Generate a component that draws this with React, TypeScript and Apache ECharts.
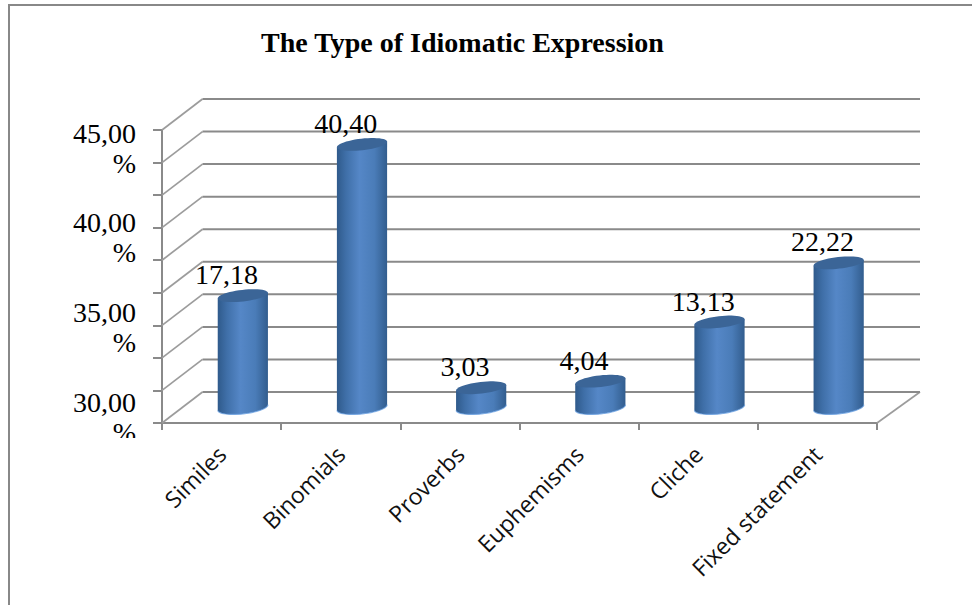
import React, { useEffect, useRef } from "react";
import * as echarts from "echarts";

const titleText = "The Type of Idiomatic Expression";
const categories = ["Similes", "Binomials", "Proverbs", "Euphemisms", "Cliche", "Fixed statement"];
const seriesValues = [17.18, 40.4, 3.03, 4.04, 13.13, 22.22];
const gridValues = [0, 5, 10, 15, 20, 25, 30, 35, 40, 45];

const SERIF = "'Liberation Serif', 'DejaVu Serif', serif";
const SANS = "'Open Sans', 'Noto Sans', sans-serif";
const LINE = "#8a8a8a";
const DX = 40.5;
const DY = 31;
const TILT = (-6.5 * Math.PI) / 180;
const comma = (v: number) => v.toFixed(2).replace(".", ",");

function ellipsePoints(cx: number, cy: number, a: number, b: number, from: number, to: number, n = 28) {
  const pts: number[][] = [];
  for (let k = 0; k <= n; k++) {
    const t = from + ((to - from) * k) / n;
    pts.push([
      cx + a * Math.cos(t) * Math.cos(TILT) - b * Math.sin(t) * Math.sin(TILT),
      cy + a * Math.cos(t) * Math.sin(TILT) + b * Math.sin(t) * Math.cos(TILT),
    ]);
  }
  return pts;
}

function renderWall(params: any, api: any) {
  const sys = params.coordSys;
  const y = api.coord([0, api.value(1)])[1];
  const left = sys.x;
  const right = sys.x + sys.width;
  const children: any[] = [];
  if (api.value(1) === 0) {
    children.push({
      type: "line",
      shape: { x1: right, y1: y, x2: right + 43, y2: y - DY },
      style: { stroke: "#9c9c9c", lineWidth: 1.7 },
    });
  }
  children.push({
    type: "line",
    shape: { x1: left, y1: y, x2: left + DX, y2: y - DY },
    style: { stroke: "#9c9c9c", lineWidth: 1.7 },
  });
  children.push({
    type: "line",
    shape: { x1: left + DX, y1: y - DY, x2: right + 43, y2: y - DY },
    style: { stroke: LINE, lineWidth: 2 },
  });
  return { type: "group", children };
}

function renderCylinder(_params: any, api: any) {
  const idx = api.value(0);
  const v = api.value(1);
  const base = api.coord([idx, 0]);
  const top = api.coord([idx, v]);
  const a = api.size([1, 0])[0] * 0.212;
  const b = 5.8;
  const cx = base[0] + DX / 2 + 1;
  const yBase = base[1] - DY / 2;
  const yTop = top[1] - DY / 2;
  const topLeft = ellipsePoints(cx, yTop, a, b, Math.PI, Math.PI, 1)[0];
  const topRight = ellipsePoints(cx, yTop, a, b, 0, 0, 1)[0];
  const front = ellipsePoints(cx, yBase, a, b + 0.6, 0, Math.PI);
  const body = new echarts.graphic.LinearGradient(0, 0, 1, 0, [
    { offset: 0, color: "#2f5a8b" },
    { offset: 0.18, color: "#3f6fa8" },
    { offset: 0.45, color: "#5587c7" },
    { offset: 0.75, color: "#4a7cb8" },
    { offset: 1, color: "#325d8e" },
  ]);
  return {
    type: "group",
    children: [
      {
        type: "polygon",
        shape: { points: [topLeft, topRight, ...front] },
        style: { fill: body },
      },
      {
        type: "polyline",
        shape: { points: front },
        style: { stroke: "rgba(105,160,225,0.75)", lineWidth: 1.2, fill: "none" },
      },
      {
        type: "polygon",
        shape: { points: ellipsePoints(cx, yTop, a, b, 0, Math.PI * 2, 48) },
        style: { fill: "#3b6597" },
      },
      {
        type: "text",
        style: {
          text: comma(v),
          x: base[0] + 5,
          y: yTop - 21,
          align: "center",
          verticalAlign: "middle",
          fontFamily: SERIF,
          fontSize: 28,
          fill: "#000",
        },
      },
    ],
  };
}

export default function App() {
  const ref = useRef<HTMLDivElement>(null);
  useEffect(() => {
    document.body.style.margin = "0";
    const chart = echarts.init(ref.current!, undefined, { renderer: "svg" });
    chart.setOption({
      animation: false,
      backgroundColor: "#fff",
      title: {
        text: titleText,
        left: 256,
        top: 23,
        textStyle: { fontFamily: SERIF, fontSize: 28, fontWeight: "bold", color: "#000" },
      },
      grid: [
        { left: 162, top: 130, width: 715, height: 293, containLabel: false },
        { left: 162, top: 148, width: 715, height: 269, containLabel: false },
      ],
      xAxis: [
        {
          type: "category",
          gridIndex: 0,
          data: categories,
          axisLine: { lineStyle: { color: LINE, width: 2 } },
          axisTick: { show: true, alignWithLabel: false, length: 7, lineStyle: { color: LINE, width: 2 } },
          axisLabel: {
            rotate: 45,
            margin: 27,
            interval: 0,
            fontFamily: SANS,
            fontSize: 23,
            color: "#111",
          },
        },
        { type: "value", gridIndex: 1, min: 0, max: 1, show: false },
      ],
      yAxis: [
        {
          type: "value",
          gridIndex: 0,
          min: 0,
          max: 45,
          interval: 5,
          axisLine: { show: true, lineStyle: { color: LINE, width: 2 } },
          axisTick: { show: true, length: 9, lineStyle: { color: LINE, width: 2 } },
          axisLabel: { show: false },
          splitLine: { show: false },
        },
        {
          type: "value",
          gridIndex: 1,
          min: 30,
          max: 45,
          interval: 5,
          axisLine: { show: false },
          axisTick: { show: false },
          splitLine: { show: false },
          axisLabel: {
            margin: 26,
            align: "right",
            fontFamily: SERIF,
            fontSize: 28,
            lineHeight: 30,
            color: "#000",
            formatter: (v: number) => `${comma(v)}\n%`,
          },
        },
      ],
      graphic: [
        {
          type: "rect",
          z: 100,
          silent: true,
          shape: { x: 100, y: 438, width: 45, height: 30 },
          style: { fill: "#fff" },
        },
        {
          type: "polyline",
          z: 100,
          silent: true,
          shape: { points: [[9, 605], [9, 5], [972, 5]] },
          style: { stroke: "#888888", lineWidth: 2, fill: "none" },
        },
      ],
      series: [
        {
          type: "custom",
          name: "Walls",
          xAxisIndex: 0,
          yAxisIndex: 0,
          z: 1,
          silent: true,
          clip: false,
          renderItem: renderWall,
          data: gridValues.map((v) => [0, v]),
          encode: { x: 0, y: 1 },
        },
        {
          type: "custom",
          name: "Type of idiomatic expression",
          xAxisIndex: 0,
          yAxisIndex: 0,
          z: 3,
          silent: true,
          clip: false,
          renderItem: renderCylinder,
          data: seriesValues.map((v, i) => [i, v]),
          encode: { x: 0, y: 1 },
        },
      ],
    });
    return () => chart.dispose();
  }, []);
  return <div ref={ref} style={{ position: "absolute", left: 0, top: 0, width: 972, height: 605 }} />;
}
